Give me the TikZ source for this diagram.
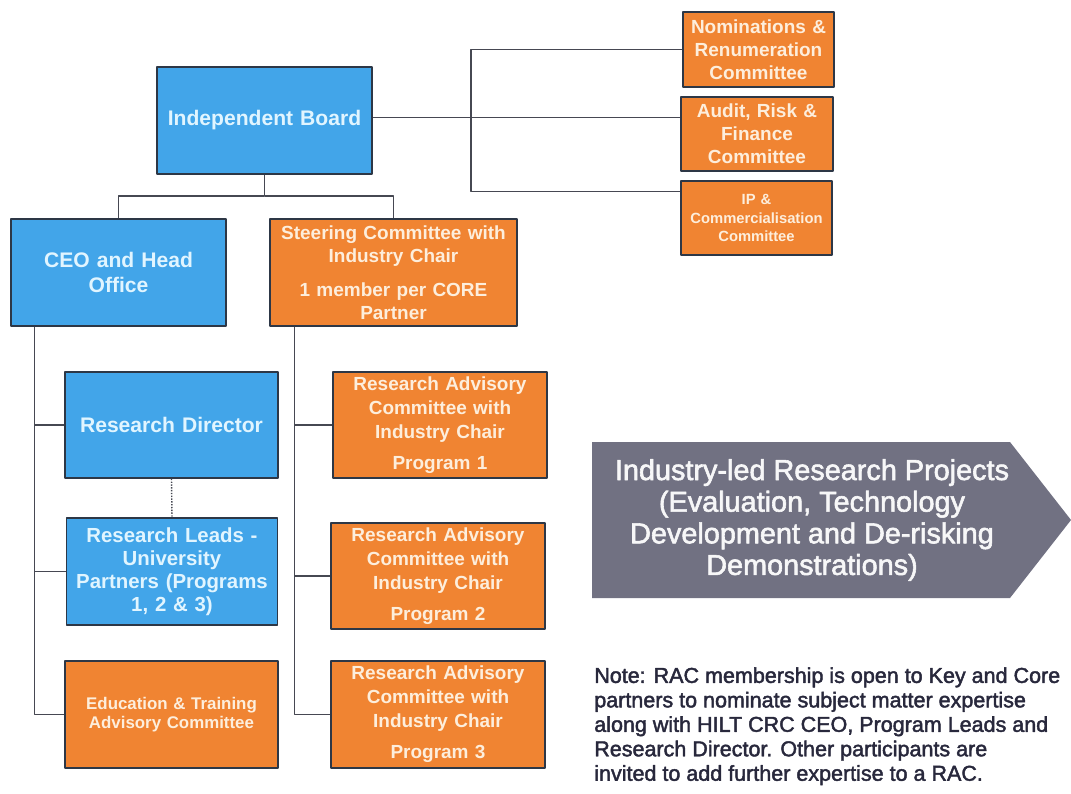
\documentclass[tikz,border=0pt]{standalone}
\usepackage{fontspec}
\setmainfont{Liberation Sans}
\newfontfamily\mediumfont{Liberation Sans}[FakeBold=2]
\definecolor{boardblue}{RGB}{66,165,233}
\definecolor{crcorange}{RGB}{240,132,50}
\definecolor{boxline}{RGB}{45,55,70}
\definecolor{bluetext}{RGB}{225,245,255}
\definecolor{orangetext}{RGB}{253,238,220}
\definecolor{projgrey}{RGB}{113,113,130}
\definecolor{notetext}{RGB}{40,40,60}
\definecolor{linkgrey}{RGB}{70,72,82}
\newcommand{\fs}[2]{\fontsize{#1}{#2}\selectfont}
\begin{document}
\begin{tikzpicture}[x=0.025cm,y=-0.025cm,line join=round,
box/.style={draw=boxline,line width=1pt,align=center,inner sep=1pt},
bluebox/.style={box,fill=boardblue,text=bluetext},
orangebox/.style={box,fill=crcorange,text=orangetext},
link/.style={draw=linkgrey,line width=1pt}]
\useasboundingbox[fill=white] (0,0) rectangle (1071,794);
\node[bluebox,minimum width=5.375cm,minimum height=2.675cm,text width=5.2cm,font=\bfseries\fs{15}{18}] (board) at (264.5,120.5) {Independent Board};
\node[bluebox,minimum width=5.375cm,minimum height=2.675cm,text width=5.2cm,font=\bfseries\fs{15}{18.4}] (ceo) at (118.5,272.5) {CEO and Head\\Office};
\node[orangebox,minimum width=6.175cm,minimum height=2.675cm,text width=6cm,font=\bfseries\fs{13.5}{16.3}] (steer) at (393.5,272.5) {Steering Committee with\\Industry Chair\\[8pt]1 member per CORE\\Partner};
\node[orangebox,minimum width=3.775cm,minimum height=1.875cm,text width=3.7cm,font=\bfseries\fs{13.5}{16.5}] (nom) at (758.5,49.5) {Nominations \&\\Renumeration\\Committee};
\node[orangebox,minimum width=3.8cm,minimum height=1.85cm,text width=3.7cm,font=\bfseries\fs{13.5}{16.5}] (audit) at (757,134) {Audit, Risk \&\\Finance\\Committee};
\node[orangebox,minimum width=3.775cm,minimum height=1.85cm,text width=3.7cm,font=\bfseries\fs{10.5}{13}] (ip) at (756.5,218) {IP \&\\Commercialisation\\Committee};
\node[bluebox,minimum width=5.325cm,minimum height=2.65cm,text width=5.2cm,font=\bfseries\fs{15}{18}] (rd) at (171.5,425) {Research Director};
\node[bluebox,minimum width=5.25cm,minimum height=2.675cm,text width=5.2cm,font=\bfseries\fs{14.5}{16.3}] (rl) at (172,571.5) {Research Leads -\\University\\Partners (Programs\\1, 2 \& 3)};
\node[orangebox,minimum width=5.325cm,minimum height=2.675cm,text width=5.2cm,font=\bfseries\fs{12}{14}] (edu) at (171.5,714.5) {Education \& Training\\Advisory Committee};
\node[orangebox,minimum width=5.35cm,minimum height=2.65cm,text width=5.2cm,font=\bfseries\fs{13.5}{17}] (rac1) at (440,425) {Research Advisory\\Committee with\\Industry Chair\\[5pt]Program 1};
\node[orangebox,minimum width=5.35cm,minimum height=2.65cm,text width=5.2cm,font=\bfseries\fs{13.5}{17}] (rac2) at (438,576) {Research Advisory\\Committee with\\Industry Chair\\[5pt]Program 2};
\node[orangebox,minimum width=5.35cm,minimum height=2.675cm,text width=5.2cm,font=\bfseries\fs{13.5}{17}] (rac3) at (438,714.5) {Research Advisory\\Committee with\\Industry Chair\\[5pt]Program 3};
\coordinate (bus) at (264.5,196);
\draw[link] (board.south) -- (bus) -| (ceo.north);
\draw[link] (bus) -| (steer.north);
\coordinate (rbus) at (471,120.5);
\draw[link] ([yshift=0.075cm]board.east) -- ([yshift=0.075cm]board.east -| audit.west);
\draw[link] (nom.west) -| (rbus) |- ([yshift=-0.275cm]ip.north west);
\coordinate (ltop) at ([xshift=0.6cm]ceo.south west);
\draw[link] (ltop) |- (edu.west);
\draw[link] (ltop |- rd.west) -- (rd.west);
\draw[link] (ltop |- rl.west) -- (rl.west);
\coordinate (rtop) at ([xshift=0.625cm]steer.south west);
\draw[link] (rtop) |- (rac3.west);
\draw[link] (rtop |- rac1.west) -- (rac1.west);
\draw[link] (rtop |- rac2.west) -- (rac2.west);
\draw[link,densely dotted] (rd.south) -- (rl.north);
\fill[projgrey] (592,442) -- (1010,442) -- (1071,520) -- (1010,598) -- (592,598) -- cycle;
\node[text=white!94!projgrey,align=center,font=\mediumfont\fs{20.5}{22.5}] (proj) at (812,520) {Industry-led Research Projects\\(Evaluation, Technology\\Development and De-risking\\Demonstrations)};
\node[anchor=north west,align=left,inner sep=0pt,text=notetext,font=\mediumfont\fs{15.3}{17.4}] (note) at (594,667) {Note: RAC membership is open to Key and Core\\partners to nominate subject matter expertise\\along with HILT CRC CEO, Program Leads and\\Research Director. Other participants are\\invited to add further expertise to a RAC.};
\end{tikzpicture}
\end{document}
